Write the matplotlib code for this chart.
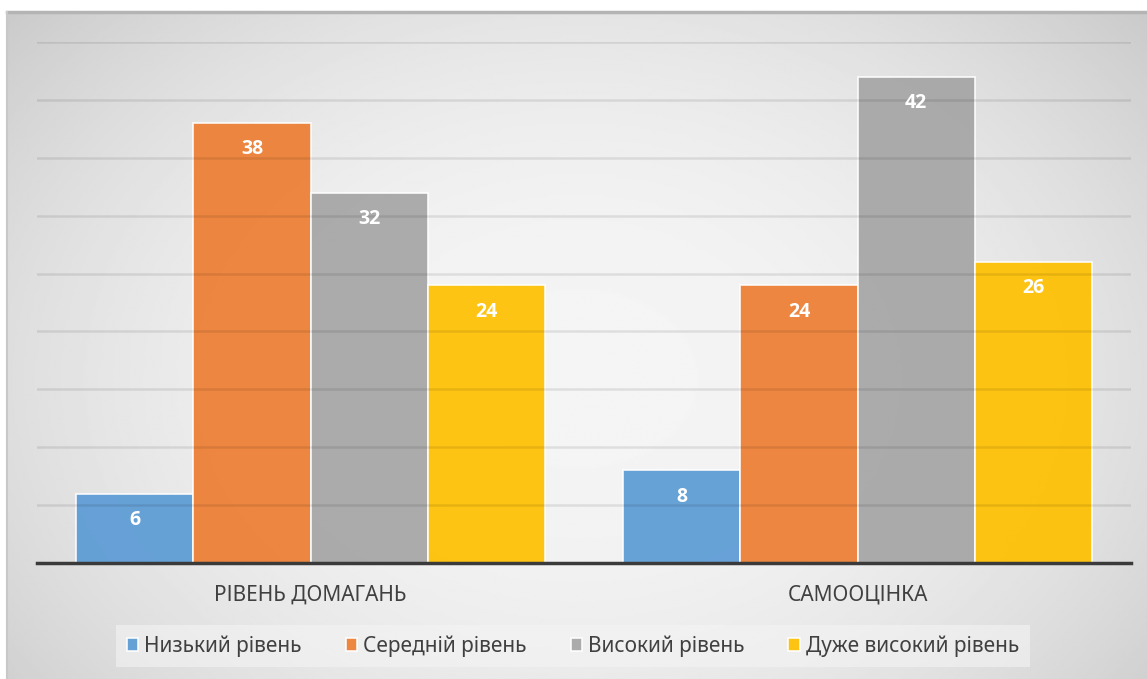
import matplotlib.pyplot as plt
import numpy as np
from matplotlib.lines import Line2D

categories = ["РІВЕНЬ ДОМАГАНЬ", "САМООЦІНКА"]
series_names = ["Низький рівень", "Середній рівень", "Високий рівень", "Дуже високий рівень"]
low = [6, 8]
medium = [38, 24]
high = [32, 42]
very_high = [24, 26]
series_values = [low, medium, high, very_high]
colors = ["#5b9bd5", "#ed7d31", "#a5a5a5", "#ffc000"]

plt.rcParams["font.family"] = ["Noto Sans", "DejaVu Sans"]

W, H = 1147, 679
fig = plt.figure(figsize=(W / 100, H / 100), dpi=100)

# radial gray background of the chart area
bg = fig.add_axes([7 / W, 0, 1 - 7 / W, 1 - 12 / H])
bg.set_axis_off()
yy, xx = np.mgrid[0:1:300j, 0:1:500j]
r = np.sqrt(((xx - 0.5) / 0.75) ** 2 + ((yy - 0.55) / 0.95) ** 2)
shade = 0.96 - 0.22 * np.clip(r, 0, 1) ** 2.2
bg.imshow(shade, cmap="gray", vmin=0, vmax=1, aspect="auto", extent=[0, 1, 0, 1],
          interpolation="bilinear")
bg.set_xlim(0, 1)
bg.set_ylim(0, 1)
fig.add_artist(Line2D([7 / W, 1], [1 - 12 / H, 1 - 12 / H], color="#b4b4b4", lw=2.5))
fig.add_artist(Line2D([7 / W, 7 / W], [0, 1 - 12 / H], color="#c8c8c8", lw=1.5))

ax = fig.add_axes([37 / W, 1 - 563 / H, (1131 - 37) / W, (563 - 42) / H])
ax.patch.set_alpha(0)

x = np.arange(len(categories))
width = 0.214
offsets = (np.arange(len(series_names)) - 1.5) * width
for vals, name, col, off in zip(series_values, series_names, colors, offsets):
    bars = ax.bar(x + off, vals, width, color=col, edgecolor="white", linewidth=1.2,
                  label=name, zorder=2, alpha=0.92)
    for b, v in zip(bars, vals):
        ax.annotate(str(v), (b.get_x() + b.get_width() / 2, v), xytext=(0, -19),
                    textcoords="offset points", ha="center", va="center",
                    color="white", fontsize=14, fontweight="bold",
                    family=["Open Sans", "DejaVu Sans"], zorder=4)

ax.set_xlim(-0.5, 1.5)
ax.set_ylim(0, 45)
ax.set_yticks(np.arange(5, 46, 5))
ax.yaxis.grid(True, color="black", alpha=0.09, lw=1.8, zorder=3)
ax.set_axisbelow(False)
ax.tick_params(axis="y", left=False, labelleft=False)
ax.tick_params(axis="x", bottom=False, pad=12)
ax.set_xticks(x)
ax.set_xticklabels(categories, fontsize=15, color="#404040")
for s in ["top", "right", "left"]:
    ax.spines[s].set_visible(False)
ax.spines["bottom"].set_color("#3a3a3a")
ax.spines["bottom"].set_linewidth(2.5)
ax.spines["bottom"].set_zorder(5)

leg = fig.legend(loc="center", bbox_to_anchor=(573 / W, 1 - 646 / H), ncol=4,
                 fontsize=15, frameon=True, handlelength=0.55, handleheight=0.55,
                 handletextpad=0.3, columnspacing=2.1, borderpad=0.5,
                 borderaxespad=0, fancybox=False)
leg.get_frame().set_facecolor("#f4f4f4")
leg.get_frame().set_alpha(0.6)
leg.get_frame().set_linewidth(0)
for t in leg.get_texts():
    t.set_color("#404040")

fig.savefig("out.png", dpi=100)
